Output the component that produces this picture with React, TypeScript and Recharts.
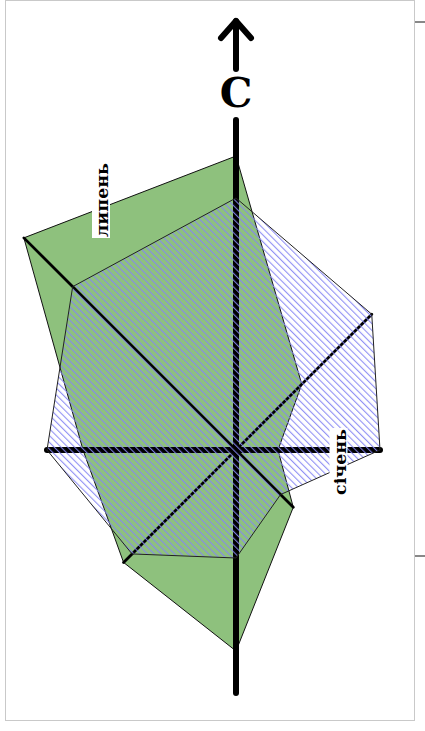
import React from "react";
import { RadarChart, Radar, PolarAngleAxis, PolarRadiusAxis } from "recharts";

// категорії йдуть за годинниковою стрілкою, починаючи праворуч
const months = ["січень", "лютий", "березень", "квітень", "травень", "червень", "липень", "серпень"];
const greenValues = [14, 27, 67, 53, 51, 100, 98, 31];
const blueValues = [48, 21, 36, 49, 63, 77, 84, 64];
const shownLabels = ["січень", "липень"];
const axisName = "C";

// вертикальна вісь (в одиницях даних)
const axisUp = 110;
const axisDown = 81;
const arrowFrom = 127;
const arrowTo = 143;
const axisLabelAt = 119;

const labelPos: Record<string, { x: number; y: number; w: number }> = {
  "січень": { x: 338.5, y: 462, w: 68 },
  "липень": { x: 101, y: 200, w: 76 },
};

const rows = months.map((m, i) => ({
  month: m,
  green: greenValues[i],
  blue: blueValues[i],
  reach: Math.max(greenValues[i], blueValues[i]),
}));

function Spokes(props: any) {
  const pts = props.points || [];
  if (!pts.length) return <g />;
  const ref = pts.find((p: any) => p.value > 0);
  const unit = ref.radius / ref.value;
  const cx = ref.cx;
  const cy = ref.cy;
  const tipY = cy - arrowTo * unit;
  return (
    <g>
      {pts.map((p: any, i: number) => (
        <line
          key={i}
          x1={p.cx}
          y1={p.cy}
          x2={p.x}
          y2={p.y}
          stroke="#000"
          strokeWidth={i % 2 === 0 ? 6 : 2.8}
          strokeLinecap="round"
        />
      ))}
      <line x1={cx} y1={cy + axisDown * unit} x2={cx} y2={cy - axisUp * unit} stroke="#000" strokeWidth={6} strokeLinecap="round" />
      <line x1={cx} y1={cy - arrowFrom * unit} x2={cx} y2={tipY} stroke="#000" strokeWidth={6} strokeLinecap="round" />
      <polyline
        points={`${cx - 15},${tipY + 17} ${cx},${tipY} ${cx + 15},${tipY + 17}`}
        fill="none"
        stroke="#000"
        strokeWidth={6}
        strokeLinecap="round"
        strokeLinejoin="round"
      />
      <text
        x={cx}
        y={cy - axisLabelAt * unit}
        textAnchor="middle"
        dominantBaseline="central"
        fontFamily="DejaVu Serif"
        fontWeight="bold"
        fontSize={41}
        fill="#000"
      >
        {axisName}
      </text>
    </g>
  );
}

function Hatched(props: any) {
  const pts = props.points || [];
  const d = pts.map((p: any) => `${p.x},${p.y}`).join(" ");
  return (
    <g>
      <defs>
        <pattern id="hatch" width="4.8" height="10" patternUnits="userSpaceOnUse" patternTransform="rotate(-45)">
          <line x1="0.6" y1="0" x2="0.6" y2="10" stroke="#8585f3" strokeWidth="1" />
        </pattern>
      </defs>
      <polygon points={d} fill="url(#hatch)" stroke="#222" strokeWidth={1} />
    </g>
  );
}

function MonthTick(props: any) {
  const name = props.payload?.value;
  if (!shownLabels.includes(name)) return <g />;
  const pos = labelPos[name];
  return (
    <g transform={`translate(${pos.x},${pos.y}) rotate(-90)`}>
      <rect x={-pos.w / 2} y={-9} width={pos.w} height={18} fill="#fff" />
      <text
        x={0}
        y={1}
        textAnchor="middle"
        dominantBaseline="central"
        fontFamily="DejaVu Serif"
        fontWeight="bold"
        fontSize={17.5}
        fill="#000"
      >
        {name}
      </text>
    </g>
  );
}

export default function App() {
  return (
    <div style={{ position: "absolute", left: 0, top: 0, width: 425, height: 731, background: "#fff" }}>
      <div
        style={{
          position: "absolute",
          left: 5,
          top: 0,
          width: 410,
          height: 721,
          border: "1.5px solid #c9c9c9",
          boxSizing: "border-box",
        }}
      />
      <div style={{ position: "absolute", left: 415, top: 21, width: 10, height: 2, background: "#888" }} />
      <div style={{ position: "absolute", left: 415, top: 555, width: 10, height: 2, background: "#888" }} />
      <div style={{ position: "absolute", left: 0, top: 0 }}>
        <RadarChart
          width={425}
          height={731}
          cx={236}
          cy={450}
          outerRadius={300}
          startAngle={0}
          endAngle={-360}
          data={rows}
          margin={{ top: 0, right: 0, bottom: 0, left: 0 }}
        >
          <PolarRadiusAxis domain={[0, 100]} tick={false} axisLine={false} />
          <Radar
            dataKey="green"
            fill="#8ec17d"
            fillOpacity={1}
            stroke="#111"
            strokeWidth={1}
            isAnimationActive={false}
          />
          <Radar dataKey="reach" shape={(p: any) => <Spokes {...p} />} isAnimationActive={false} />
          <Radar dataKey="blue" shape={(p: any) => <Hatched {...p} />} isAnimationActive={false} />
          <PolarAngleAxis dataKey="month" tick={(p: any) => <MonthTick {...p} />} axisLine={false} tickLine={false} />
        </RadarChart>
      </div>
    </div>
  );
}
